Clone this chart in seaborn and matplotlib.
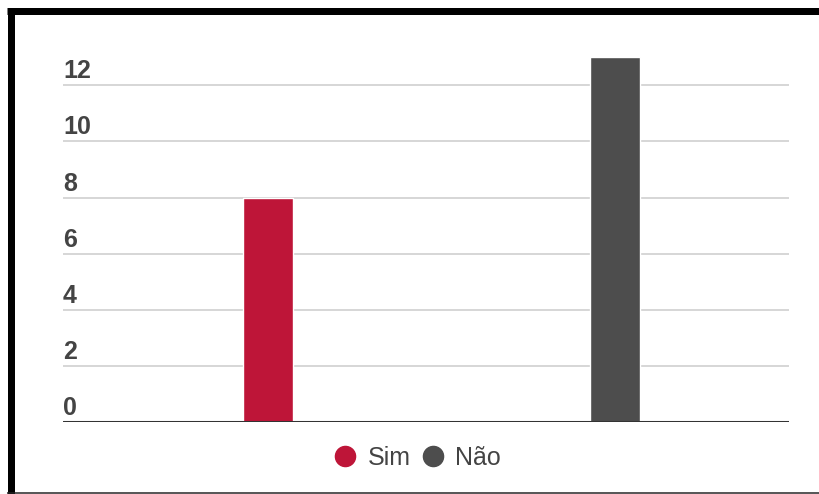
import matplotlib
matplotlib.use("Agg")
import matplotlib.pyplot as plt
from matplotlib.lines import Line2D
from matplotlib.transforms import blended_transform_factory
import seaborn as sns
import pandas as pd

# Data
categories = ["Sim", "Não"]
values = [8, 13]
colors = ["#BE1538", "#4D4D4D"]
y_ticks = [0, 2, 4, 6, 8, 10, 12]

sns.set_theme(style="white")
plt.rcParams["font.family"] = ["Liberation Sans", "DejaVu Sans"]

W, H, DPI = 819, 494, 100
fig = plt.figure(figsize=(W / DPI, H / DPI), dpi=DPI)
fig.patch.set_facecolor("white")

ax = fig.add_axes([63 / W, (H - 422) / H, 726 / W, 392.8 / H])

df = pd.DataFrame({"resposta": categories, "total": values})
sns.barplot(data=df, x="resposta", y="total", hue="resposta",
            palette=dict(zip(categories, colors)), width=0.144,
            saturation=1, legend=False, ax=ax, zorder=3)

ax.set_xlim(-0.590, 1.500)
ax.set_ylim(0, 14)
ax.set_xlabel("")
ax.set_ylabel("")
ax.set_xticks([])
ax.set_yticks([])
for s in ax.spines.values():
    s.set_visible(False)

# Horizontal gridlines with labels sitting just above each line
trans = blended_transform_factory(ax.transAxes, ax.transData)
for t in y_ticks:
    if t == 0:
        ax.axhline(0, color="#333333", lw=2.2, zorder=4)
    else:
        ax.axhline(t, color="#cccccc", lw=1.1, zorder=1)
    ax.annotate(str(t), xy=(0, t), xycoords=trans, xytext=(0, 5),
                textcoords="offset points", ha="left", va="baseline",
                fontsize=18, fontweight="bold", color="#444444")

# Legend with round markers
handles = [Line2D([0], [0], marker="o", linestyle="none", markersize=14.5,
                  markerfacecolor=c, markeredgecolor=c) for c in colors]
fig.legend(handles, categories, loc="center", bbox_to_anchor=(418 / W, (H - 458) / H),
           ncol=2, frameon=False, fontsize=18, handlelength=0.8,
           handletextpad=0.5, columnspacing=0.5, labelcolor="#444444")

# Frame around the figure
fig.add_artist(Line2D([10.5 / W, 10.5 / W], [0, (H - 8) / H], transform=fig.transFigure,
                      color="black", lw=7 * 72 / DPI, solid_capstyle="butt"))
fig.add_artist(Line2D([7 / W, 1], [(H - 11.5) / H, (H - 11.5) / H], transform=fig.transFigure,
                      color="black", lw=7 * 72 / DPI, solid_capstyle="butt"))
fig.add_artist(Line2D([7 / W, 1], [(H - 492.5) / H, (H - 492.5) / H], transform=fig.transFigure,
                      color="#222222", lw=1.5 * 72 / DPI, solid_capstyle="butt"))

fig.savefig("out.png", dpi=DPI, facecolor="white")
